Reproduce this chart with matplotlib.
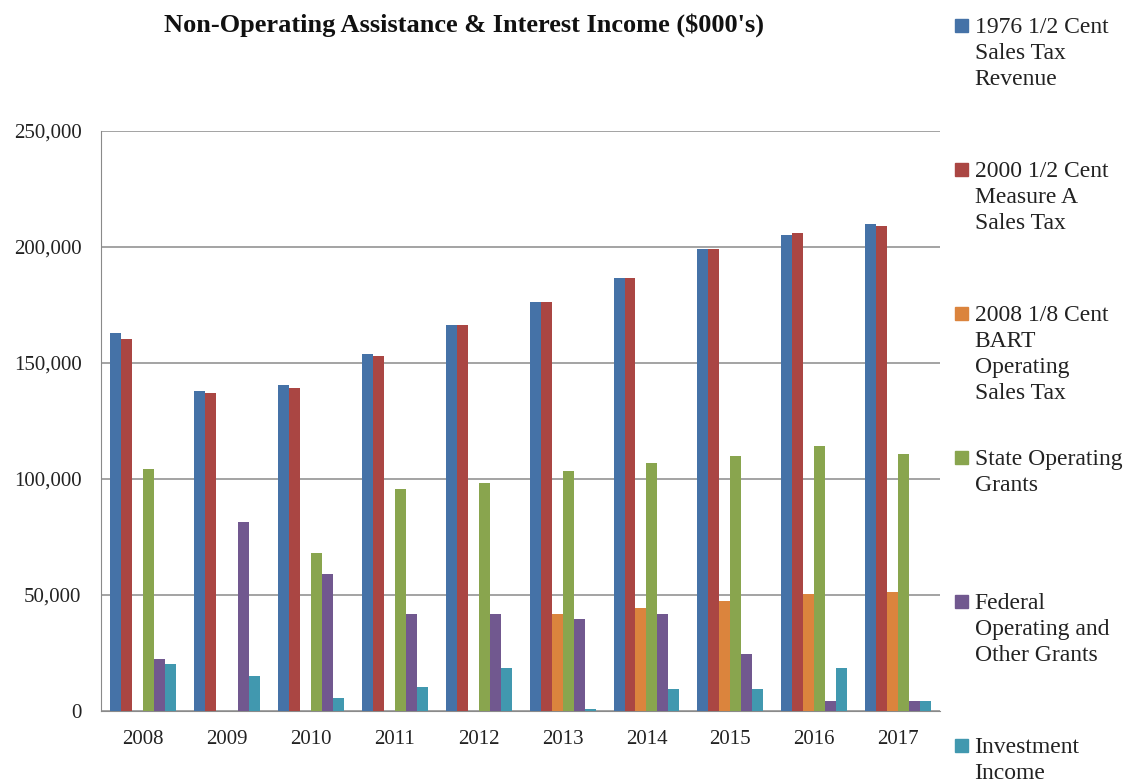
import matplotlib.pyplot as plt
import numpy as np

plt.rcParams['font.family'] = ['Liberation Serif', 'DejaVu Serif']

years = ['2008', '2009', '2010', '2011', '2012', '2013', '2014', '2015', '2016', '2017']

sales_tax_1976 = [162.9, 137.8, 140.3, 153.8, 166.3, 176.2, 186.5, 199.3, 205.0, 210.1]
measure_a_2000 = [160.4, 137.0, 139.4, 153.0, 166.3, 176.2, 186.5, 199.3, 206.0, 209.2]
bart_2008 = [0, 0, 0, 0, 0, 41.9, 44.6, 47.4, 50.3, 51.5]
state_grants = [104.3, 0, 68.0, 95.7, 98.2, 103.5, 106.8, 110.1, 114.2, 110.9]
federal_grants = [22.6, 81.4, 58.9, 41.9, 41.9, 39.6, 41.9, 24.4, 4.5, 4.5]
investment_income = [20.1, 15.2, 5.8, 10.2, 18.5, 0.8, 9.4, 9.4, 18.5, 4.5]

series_names = [
    '1976 1/2 Cent\nSales Tax\nRevenue',
    '2000 1/2 Cent\nMeasure A\nSales Tax',
    '2008 1/8 Cent\nBART\nOperating\nSales Tax',
    'State Operating\nGrants',
    'Federal\nOperating and\nOther Grants',
    'Investment\nIncome',
]
series_values = [sales_tax_1976, measure_a_2000, bart_2008,
                 state_grants, federal_grants, investment_income]
colors = ['#4572A7', '#AA4643', '#DB843D', '#89A54E', '#71588F', '#4198AF']

fig = plt.figure(figsize=(11.26, 7.82), dpi=100)
ax = fig.add_axes([0.0897, 0.0908, 0.7453, 0.7417])

x = np.arange(len(years))
bar_w = 0.131
offsets = (np.arange(6) - 2.5) * bar_w

for vals, off, col in zip(series_values, offsets, colors):
    ax.bar(x + off, np.array(vals) * 1000, width=bar_w, color=col, linewidth=0, zorder=3)

ax.set_xlim(-0.5, len(years) - 0.5)
ax.set_ylim(0, 250000)
ax.set_yticks(np.arange(0, 250001, 50000))
ax.set_yticklabels([f'{v:,}' for v in range(0, 250001, 50000)], fontsize=15)
ax.set_xticks(x)
ax.set_xticklabels(years, fontsize=15)
ax.tick_params(axis='y', length=0, pad=14, colors='#222222')
ax.tick_params(axis='x', length=0, pad=14, colors='#222222')
ax.grid(axis='y', color='#8a8a8a', linewidth=1.1, zorder=0)
for side in ['top', 'right']:
    ax.spines[side].set_visible(False)
ax.spines['left'].set_color('#8a8a8a')
ax.spines['bottom'].set_color('#8a8a8a')

fig.text(0.4125, 0.968, "Non-Operating Assistance & Interest Income ($000's)",
         ha='center', va='center', fontsize=19, fontweight='bold', color='#111111')

# legend drawn by hand so the entries keep an even vertical pitch
for i, (name, col) in enumerate(zip(series_names, colors)):
    y = 0.968 - i * 0.1842
    fig.patches.append(plt.Rectangle((0.848, y - 0.0085), 0.0115, 0.0166,
                                     transform=fig.transFigure, color=col))
    fig.text(0.8655, y + 0.0102, name, ha='left', va='top', fontsize=17,
             linespacing=1.3, color='#222222')

fig.savefig('out.png', dpi=100)
